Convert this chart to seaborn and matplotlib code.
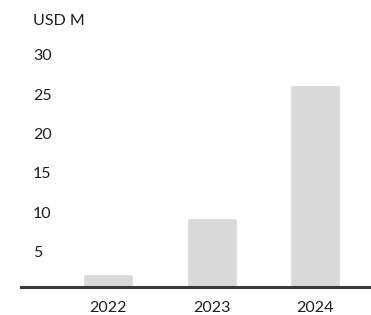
import matplotlib
matplotlib.use("Agg")
import matplotlib.pyplot as plt
import matplotlib.transforms as mtransforms
import seaborn as sns
import pandas as pd

# values (USD M)
years = ["2022", "2023", "2024"]
revenue = [1.7, 8.8, 25.7]
y_ticks = [5, 10, 15, 20, 25, 30]

df = pd.DataFrame({"year": years, "value": revenue})

sns.set_style("white")
plt.rcParams["font.family"] = ["Lato", "DejaVu Sans"]

fig = plt.figure(figsize=(3.71, 3.15), dpi=100)
ax = fig.add_axes([21 / 371, 28 / 315, 350 / 371, 252 / 315])

sns.barplot(data=df, x="year", y="value", color="#d9d9d9", saturation=1,
            width=0.483, ax=ax)

ax.set_xlim(-0.84, 2.54)
ax.set_ylim(0, 32)
ax.set_yticks(y_ticks)
ax.set_yticklabels([str(t) for t in y_ticks])
ax.set_xlabel("")
ax.set_ylabel("")

for s in ["top", "right", "left"]:
    ax.spines[s].set_visible(False)
ax.spines["bottom"].set_color("#3a3a3a")
ax.spines["bottom"].set_linewidth(2.2)

# pad is in points: 12 px ~ 8.6 pt
ax.tick_params(axis="x", length=0, pad=10, labelsize=11.5, labelcolor="#1e1e1e")
ax.tick_params(axis="y", length=0, pad=-8.6, labelsize=11.5, labelcolor="#1e1e1e")
offset = mtransforms.ScaledTranslation(0, -4 / 100, fig.dpi_scale_trans)
for lab in ax.get_yticklabels():
    lab.set_horizontalalignment("left")
    lab.set_transform(lab.get_transform() + offset)

fig.text(33 / 371, 1 - 21 / 315, "USD M", ha="left", va="center",
         fontsize=11.5, color="#1e1e1e")

fig.savefig("out.png", dpi=100)
